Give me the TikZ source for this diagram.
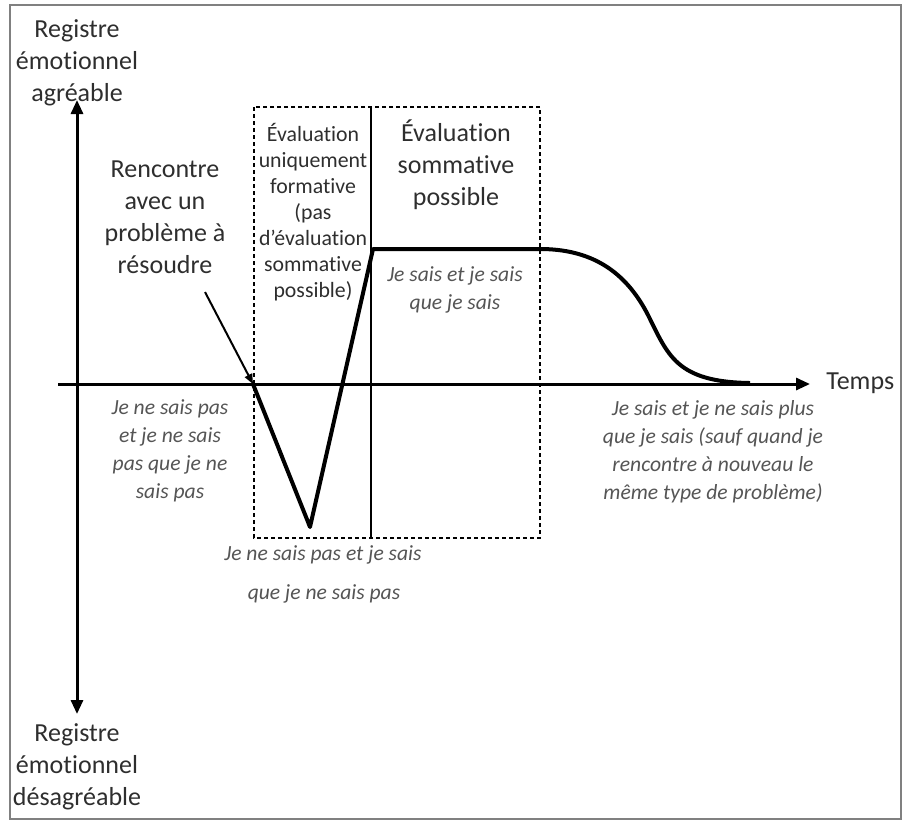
\documentclass[tikz,border=0pt]{standalone}
\usepackage{fontspec}
\setmainfont{Carlito}[Ligatures=NoCommon]
\usetikzlibrary{arrows.meta}
\definecolor{labelgray}{HTML}{2E2E2E}
\definecolor{notegray}{HTML}{555555}

\begin{document}
\begin{tikzpicture}[x=0.5pt,y=-0.5pt]
            \tikzstyle{regtext}=[text=labelgray,align=center,inner sep=0pt,font=\fontsize{13}{16}\selectfont]
            \tikzstyle{boxtext}=[text=labelgray,align=center,inner sep=0pt,font=\fontsize{10.9}{13}\selectfont]
            \tikzstyle{knowtext}=[text=notegray,align=center,inner sep=0pt,font=\fontsize{10.8}{14}\selectfont\itshape]
            \tikzstyle{axis}=[line width=1.5pt]
            \useasboundingbox (0,0) rectangle (903,821);
            \draw[gray,line width=1pt] (10,5) rectangle (901,819);
            % axes
            \coordinate (ytop) at (77,100);
            \coordinate (ybot) at (77,714);
            \coordinate (xleft) at (58,384);
            \coordinate (xright) at (810,384);
            \draw[axis,{Triangle[length=7pt,width=6pt]}-{Triangle[length=7pt,width=6pt]}] (ybot) -- (ytop);
            \draw[axis,-{Triangle[length=7pt,width=6pt]}] (xleft) -- (xright);
            \node[regtext] (agreable) at (77,63) {Registre\\émotionnel\\agréable};
            \node[regtext] (desagreable) at (77,767) {Registre\\émotionnel\\désagréable};
            \node[regtext,anchor=west] (temps) at (826,383) {Temps};
            % evaluation zones
            \draw[line width=0.8pt,dash pattern=on 2pt off 1.5pt] (254,107) rectangle (540,538);
            \draw[line width=0.8pt] (371,107) -- (371,538);
            \node[boxtext] (formative) at (313,212) {Évaluation\\uniquement\\formative\\(pas\\d’évaluation\\sommative\\possible)};
            \node[regtext] (sommative) at (456,165) {Évaluation\\sommative\\possible};
            % learning curve
            \coordinate (meet) at (253,384);
            \draw[line width=2pt,line join=round]
                (meet) -- (310,527) -- (373,249) -- (540,249)
                .. controls (590,249) and (625,270) .. (648,315)
                .. controls (668,355) and (676,382) .. (750,383);
            \node[regtext] (rencontre) at (165,217) {Rencontre\\avec un\\problème à\\résoudre};
            \draw[line width=1pt,-{Triangle[length=5pt,width=4pt]}] (205,292) -- (meet);
            % states of knowing
            \node[knowtext] (nesaispas) at (170,451) {Je ne sais pas\\et je ne sais\\pas que je ne\\sais pas};
            \node[knowtext,text height=1.6ex] (saispasl1) at (323,555) {Je ne sais pas et je sais};
            \node[knowtext,text height=1.6ex] (saispasl2) at (324,594) {que je ne sais pas};
            \node[knowtext] (sais) at (455,290) {Je sais et je sais\\que je sais};
            \node[knowtext] (oubli) at (713,452) {Je sais et je ne sais plus\\que je sais (sauf quand je\\rencontre à nouveau le\\même type de problème)};
\end{tikzpicture}
\end{document}
